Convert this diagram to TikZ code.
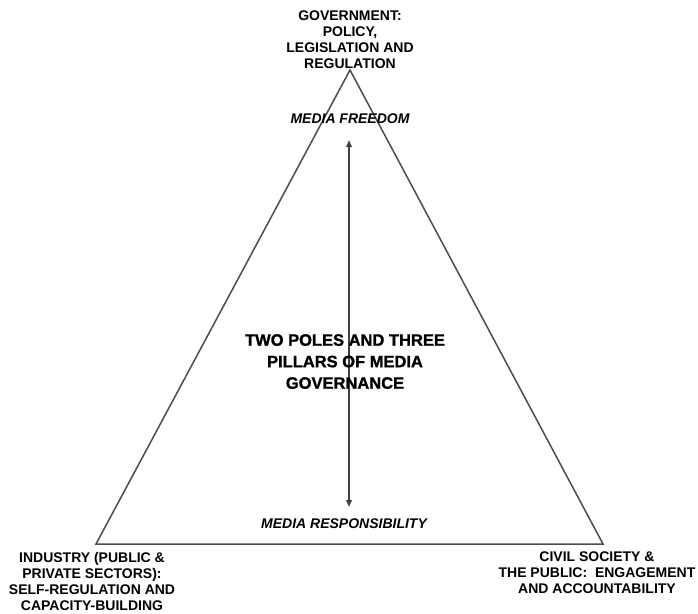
\documentclass[tikz,border=0pt]{standalone}
\usepackage{fontspec}
\setmainfont{Liberation Sans}
\newfontfamily\heavyfont[BoldFeatures={FakeBold=1.3}]{Liberation Sans}
\usetikzlibrary{arrows.meta}
\begin{document}
\begin{tikzpicture}
		[	x=1pt,y=-1pt,
		pillar/.style={align=center,inner sep=0pt,anchor=north,font=\fontsize{14}{16}\selectfont\bfseries},
		pole/.style={inner sep=0pt,text height=10pt,text depth=0pt,font=\fontsize{14}{16}\selectfont\bfseries\itshape},
		title/.style={align=center,inner sep=0pt,anchor=north,font=\fontsize{16.5}{21.5}\selectfont\heavyfont\bfseries},
		edge/.style={draw=black!70,line width=1.5pt,line join=miter},
		arr/.style={draw=black!75,line width=1.1pt,{Triangle[length=7pt,width=6pt]}-{Triangle[length=7pt,width=6pt]}}
		]
		\useasboundingbox (0,0) rectangle (698,613);
		% corners of the triangle
		\coordinate (apex) at (350,70);
		\coordinate (left) at (96,544);
		\coordinate (right) at (603,544);
		\draw[edge] (apex) -- (left) -- (right) -- cycle;

\node[pillar] (gov) at (350,11){GOVERNMENT:\\POLICY,\\LEGISLATION AND\\REGULATION};
\node[pillar] (ind) at (92,552){INDUSTRY (PUBLIC \&\\PRIVATE SECTORS):\\SELF-REGULATION AND\\CAPACITY-BUILDING};
\node[pillar] (civ) at (597,552){CIVIL SOCIETY \&\\THE PUBLIC:\ \ ENGAGEMENT\\AND ACCOUNTABILITY};

\node[pole] (free) at (350,118){MEDIA FREEDOM};
\node[pole] (resp) at (344,523){MEDIA RESPONSIBILITY};
		\draw[arr] ([xshift=-1pt,yshift=-17pt]free.south) -- ([xshift=5pt,yshift=11pt]resp.north);

\node[title] (two) at (345,334){TWO POLES AND THREE\\PILLARS OF MEDIA\\GOVERNANCE};
	\end{tikzpicture}
\end{document}
